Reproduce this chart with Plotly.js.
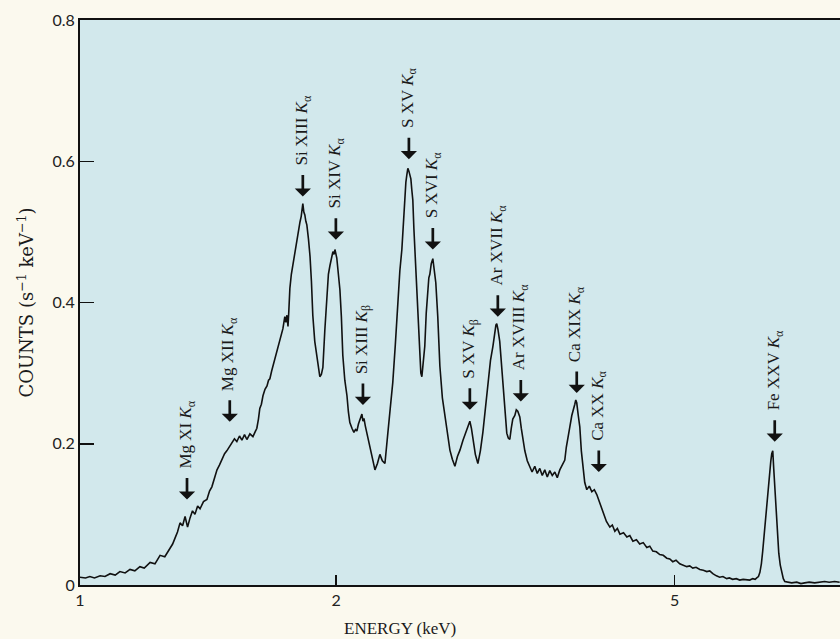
<!DOCTYPE html>
<html>
<head>
<meta charset="utf-8">
<script src="https://cdn.plot.ly/plotly-3.0.1.min.js"></script>
<style>
html,body{margin:0;padding:0;background:#fbf9ee;}
#chart{width:840px;height:639px;}
</style>
</head>
<body>
<div id="chart"></div>
<script>
// Spectrum (energy in keV, counts in s^-1 keV^-1)
const energy = [
1.000,1.015,1.027,1.040,1.056,1.070,1.085,1.100,1.114,1.130,1.145,1.160,1.176,1.190,1.209,1.225,1.242,1.258,1.276,1.285,
1.293,1.302,1.311,1.320,1.329,1.338,1.347,1.356,1.365,1.375,1.384,1.397,1.410,1.420,1.429,1.439,1.449,1.459,1.469,1.479,
1.488,1.499,1.509,1.519,1.529,1.540,1.550,1.561,1.571,1.584,1.597,1.606,1.614,1.621,1.627,1.634,1.641,1.650,1.659,1.666,
1.672,1.680,1.686,1.695,1.704,1.711,1.718,1.725,1.732,1.741,1.746,1.751,1.756,1.760,1.765,1.772,1.780,1.789,1.797,1.804,
1.810,1.814,1.820,1.824,1.828,1.833,1.838,1.843,1.848,1.856,1.864,1.871,1.878,1.888,1.899,1.906,1.914,1.922,1.930,1.940,
1.951,1.959,1.967,1.975,1.983,1.989,1.994,2.004,2.012,2.021,2.029,2.037,2.048,2.060,2.068,2.076,2.088,2.099,2.108,2.116,
2.125,2.133,2.145,2.151,2.157,2.165,2.174,2.186,2.198,2.210,2.222,2.237,2.252,2.267,2.283,2.292,2.301,2.316,2.332,2.348,
2.364,2.377,2.390,2.400,2.409,2.416,2.422,2.429,2.436,2.442,2.449,2.455,2.462,2.469,2.476,2.482,2.489,2.499,2.509,2.516,
2.523,2.533,2.543,2.553,2.564,2.571,2.578,2.588,2.599,2.606,2.613,2.620,2.634,2.649,2.667,2.685,2.703,2.722,2.740,2.759,
2.778,2.797,2.820,2.842,2.858,2.873,2.885,2.896,2.916,2.936,2.956,2.976,2.997,3.017,3.038,3.058,3.066,3.075,3.083,3.090,
3.100,3.115,3.128,3.140,3.157,3.175,3.188,3.201,3.214,3.227,3.245,3.258,3.271,3.289,3.302,3.316,3.334,3.356,3.379,3.400,
3.425,3.448,3.472,3.495,3.519,3.543,3.567,3.591,3.616,3.640,3.665,3.690,3.715,3.730,3.745,3.766,3.786,3.801,3.817,3.827,
3.837,3.853,3.869,3.885,3.900,3.921,3.943,3.970,3.997,4.024,4.051,4.085,4.118,4.158,4.197,4.225,4.254,4.283,4.313,4.355,
4.395,4.430,4.467,4.510,4.550,4.594,4.638,4.676,4.714,4.760,4.804,4.850,4.896,4.936,4.976,5.020,5.071,5.120,5.168,5.210,
5.253,5.300,5.354,5.405,5.456,5.500,5.546,5.600,5.650,5.700,5.758,5.800,5.852,5.910,5.965,6.020,6.079,6.130,6.178,6.220,
6.246,6.275,6.300,6.325,6.348,6.375,6.400,6.420,6.435,6.452,6.470,6.488,6.505,6.523,6.540,6.558,6.576,6.594,6.612,6.630,
6.657,6.684,6.712,6.739,6.792,6.866,6.960,7.040,7.112,7.200,7.306,7.400,7.506,7.600,7.712,7.818
];
const counts = [
0.011,0.010,0.012,0.010,0.013,0.012,0.016,0.014,0.019,0.017,0.022,0.020,0.026,0.024,0.032,0.030,0.042,0.040,0.052,0.058,
0.066,0.075,0.088,0.084,0.097,0.082,0.095,0.105,0.100,0.112,0.108,0.118,0.121,0.133,0.139,0.150,0.163,0.170,0.178,0.186,
0.190,0.196,0.201,0.207,0.203,0.211,0.205,0.213,0.206,0.214,0.210,0.216,0.222,0.235,0.250,0.256,0.268,0.277,0.282,0.290,
0.292,0.303,0.310,0.322,0.330,0.340,0.348,0.358,0.363,0.380,0.372,0.382,0.366,0.388,0.420,0.440,0.455,0.467,0.480,0.495,
0.505,0.514,0.522,0.530,0.540,0.528,0.524,0.515,0.510,0.490,0.465,0.430,0.382,0.345,0.322,0.308,0.295,0.298,0.308,0.360,
0.418,0.440,0.452,0.464,0.472,0.468,0.475,0.463,0.440,0.418,0.380,0.325,0.290,0.268,0.245,0.230,0.222,0.216,0.220,0.218,
0.228,0.233,0.242,0.232,0.236,0.225,0.216,0.200,0.188,0.176,0.163,0.172,0.185,0.176,0.172,0.190,0.215,0.250,0.287,0.340,
0.404,0.445,0.475,0.515,0.546,0.570,0.580,0.590,0.586,0.580,0.575,0.560,0.545,0.505,0.475,0.440,0.404,0.360,0.320,0.300,
0.295,0.318,0.338,0.385,0.420,0.435,0.440,0.455,0.462,0.450,0.440,0.428,0.380,0.310,0.265,0.238,0.215,0.191,0.178,0.168,
0.182,0.191,0.205,0.216,0.224,0.232,0.222,0.206,0.185,0.172,0.190,0.216,0.252,0.287,0.318,0.338,0.350,0.360,0.368,0.370,
0.362,0.345,0.318,0.287,0.248,0.215,0.208,0.206,0.222,0.235,0.240,0.248,0.246,0.238,0.222,0.206,0.190,0.176,0.167,0.160,
0.168,0.158,0.165,0.155,0.163,0.153,0.162,0.155,0.160,0.152,0.163,0.170,0.177,0.195,0.205,0.224,0.240,0.250,0.256,0.262,
0.258,0.240,0.224,0.190,0.167,0.145,0.135,0.140,0.132,0.135,0.128,0.115,0.102,0.090,0.082,0.085,0.076,0.080,0.072,0.074,
0.068,0.070,0.062,0.064,0.058,0.060,0.053,0.055,0.048,0.047,0.043,0.042,0.038,0.037,0.033,0.035,0.030,0.028,0.026,0.027,
0.024,0.025,0.022,0.021,0.019,0.020,0.016,0.013,0.011,0.012,0.009,0.010,0.008,0.009,0.007,0.008,0.008,0.007,0.009,0.008,
0.010,0.012,0.018,0.030,0.048,0.075,0.100,0.120,0.135,0.148,0.158,0.175,0.186,0.190,0.165,0.138,0.110,0.085,0.062,0.045,
0.028,0.016,0.009,0.005,0.004,0.003,0.004,0.002,0.003,0.004,0.003,0.004,0.005,0.004,0.005,0.004
];

// Line identifications
const lineLabels = [
  "Mg XI <i>K</i><sub>α</sub>", "Mg XII <i>K</i><sub>α</sub>", "Si XIII <i>K</i><sub>α</sub>",
  "Si XIV <i>K</i><sub>α</sub>", "Si XIII <i>K</i><sub>β</sub>", "S XV <i>K</i><sub>α</sub>",
  "S XVI <i>K</i><sub>α</sub>", "S XV <i>K</i><sub>β</sub>", "Ar XVII <i>K</i><sub>α</sub>",
  "Ar XVIII <i>K</i><sub>α</sub>", "Ca XIX <i>K</i><sub>α</sub>", "Ca XX <i>K</i><sub>α</sub>",
  "Fe XXV <i>K</i><sub>α</sub>"
];
const lineEnergies = [1.336, 1.500, 1.828, 1.999, 2.151, 2.436, 2.599, 2.873, 3.099, 3.298, 3.837, 4.073, 6.558];
const lineTipCounts = [0.121, 0.231, 0.550, 0.489, 0.255, 0.603, 0.475, 0.248, 0.380, 0.260, 0.272, 0.160, 0.203];

const xTickVals = [1, 2, 5];
const xTickText = ["1", "2", "5"];
const yTickVals = [0, 0.2, 0.4, 0.6, 0.8];
const yTickText = ["0", "0.2", "0.4", "0.6", "0.8"];

const serif = "Liberation Serif, Times New Roman, serif";
const annotations = [];
lineLabels.forEach((lab, i) => {
  const lx = Math.log10(lineEnergies[i]);
  annotations.push({
    x: lx, y: lineTipCounts[i], xref: 'x', yref: 'y',
    text: '', showarrow: true, ax: 0, ay: -23,
    arrowhead: 1, arrowsize: 1, arrowwidth: 2.7, arrowcolor: '#111'
  });
  annotations.push({
    x: lx, y: lineTipCounts[i], xref: 'x', yref: 'y',
    text: lab, showarrow: false, textangle: -90,
    xanchor: 'center', yanchor: 'bottom', yshift: 29,
    font: {family: serif, size: 17, color: '#1a1a1a'}
  });
});
annotations.push({
  x: (400 - 80) / 760, y: 0, xref: 'paper', yref: 'paper',
  yshift: -43, xanchor: 'center', yanchor: 'middle',
  text: 'ENERGY (keV)', showarrow: false,
  font: {family: serif, size: 17, color: '#1a1a1a'}
});

const trace = {
  x: energy, y: counts, type: 'scatter', mode: 'lines',
  line: {color: '#111', width: 1.6}, hoverinfo: 'x+y'
};

const layout = {
  width: 840, height: 639,
  margin: {l: 80, r: 0, t: 20, b: 54},
  paper_bgcolor: '#fbf9ee',
  plot_bgcolor: '#d2e8ec',
  showlegend: false,
  xaxis: {
    type: 'log', range: [0, 0.8935],
    tickvals: xTickVals, ticktext: xTickText,
    ticks: 'inside', ticklen: 10, tickwidth: 1.5, tickcolor: '#111',
    showline: true, linecolor: '#111', linewidth: 2, mirror: true,
    showgrid: false, zeroline: false,
    tickfont: {family: 'Lato, sans-serif', size: 16, color: '#222'}
  },
  yaxis: {
    range: [0, 0.8],
    tickvals: yTickVals, ticktext: yTickText,
    ticks: 'inside', ticklen: 14, tickwidth: 1.5, tickcolor: '#111',
    showline: true, linecolor: '#111', linewidth: 2,
    showgrid: false, zeroline: false,
    tickfont: {family: 'Lato, sans-serif', size: 16, color: '#222'},
    title: {text: 'COUNTS (s<sup>−1</sup> keV<sup>−1</sup>)', standoff: 14,
            font: {family: 'DejaVu Serif, serif', size: 18, color: '#1a1a1a'}}
  },
  annotations: annotations
};

Plotly.newPlot('chart', [trace], layout, {displayModeBar: false, staticPlot: true});
</script>
</body>
</html>
